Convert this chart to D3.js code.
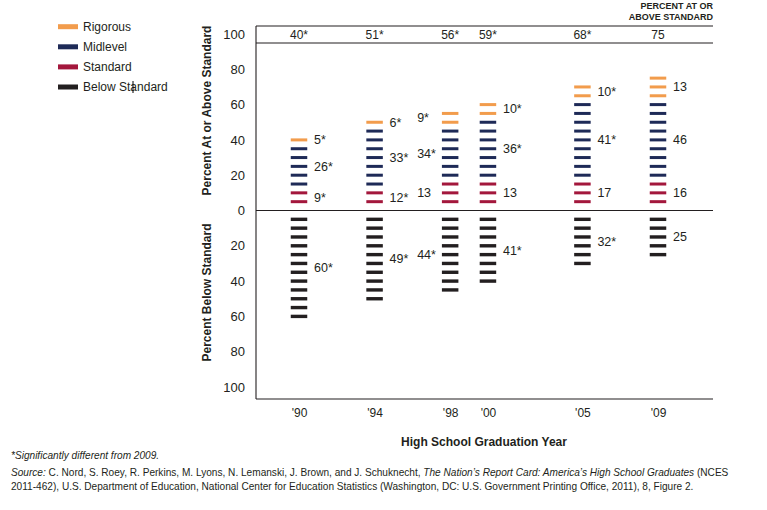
<!DOCTYPE html>
<html><head><meta charset="utf-8">
<script src="https://cdn.jsdelivr.net/npm/d3@7"></script>
<style>
html,body{margin:0;padding:0;background:#fff;}
svg{display:block;font-family:"Liberation Sans",Arial,Helvetica,sans-serif;}
</style></head>
<body><svg id="chart" width="767" height="510"></svg>
<script>
// ---- data ----
const years = [1990, 1994, 1998, 2000, 2005, 2009];
const yearLabels = ["'90", "'94", "'98", "'00", "'05", "'09"];
const standard = [9, 12, 13, 13, 17, 16];
const standardSig = [true, true, false, false, false, false];
const midlevel = [26, 33, 34, 36, 41, 46];
const midlevelSig = [true, true, true, true, true, false];
const rigorous = [5, 6, 9, 10, 10, 13];
const rigorousSig = [true, true, true, true, true, false];
const belowStandard = [60, 49, 44, 41, 32, 25];
const belowSig = [true, true, true, true, true, false];
const atOrAbove = [40, 51, 56, 59, 68, 75];
const atOrAboveSig = [true, true, true, true, true, false];
const yTicks = [0, 20, 40, 60, 80, 100];
const legendItems = ["Rigorous", "Midlevel", "Standard", "Below Standard"];
const leftLabelYears = [1998];
const dashStep = 5;

// ---- style ----
const colors = {Rigorous: "#f29c4c", Midlevel: "#1e2a57", Standard: "#a3173c", "Below Standard": "#231f20"};
const textColor = "#231f20";

const svg = d3.select("#chart");
const frame = {left: 256, right: 713, top: 26, header: 43, zero: 210.5, bottom: 399};

const x = d3.scaleLinear().domain([1990, 2009]).range([299, 658]);
const yUp = d3.scaleLinear().domain([0, 100]).range([frame.zero, 34]);
const yDown = d3.scaleLinear().domain([0, 100]).range([frame.zero, 387]);

// frame lines
const ln = (x1, y1, x2, y2) => svg.append("line").attr("x1", x1).attr("y1", y1).attr("x2", x2).attr("y2", y2)
  .attr("stroke", textColor).attr("stroke-width", 1.1);
ln(frame.left, frame.top, frame.right, frame.top);
ln(frame.left, frame.header, frame.right, frame.header);
ln(frame.left, frame.zero, frame.right, frame.zero);
ln(frame.left, frame.bottom, frame.right, frame.bottom);
ln(frame.left, frame.top, frame.left, frame.bottom);

// y tick labels via axes (no lines)
const axUp = svg.append("g").attr("transform", `translate(${frame.left - 11},0)`)
  .call(d3.axisLeft(yUp).tickValues(yTicks).tickSize(0).tickPadding(0));
const axDown = svg.append("g").attr("transform", `translate(${frame.left - 11},0)`)
  .call(d3.axisLeft(yDown).tickValues(yTicks.slice(1)).tickSize(0).tickPadding(0));
[axUp, axDown].forEach(g => {
  g.select(".domain").remove();
  g.selectAll("text").attr("font-size", 13).attr("fill", textColor)
    .attr("font-family", '"Liberation Sans",Arial,sans-serif');
});

// x tick labels
const axX = svg.append("g").attr("transform", `translate(0,${frame.bottom + 9})`)
  .call(d3.axisBottom(x).tickValues(years).tickFormat((d, i) => yearLabels[i]).tickSize(0).tickPadding(0));
axX.select(".domain").remove();
axX.selectAll("text").attr("font-size", 12).attr("fill", textColor)
  .attr("font-family", '"Liberation Sans",Arial,sans-serif');

// header totals
svg.append("g").selectAll("text").data(years).join("text")
  .attr("x", d => x(d)).attr("y", 35).attr("dy", "0.35em").attr("text-anchor", "middle")
  .attr("font-size", 12).attr("fill", textColor)
  .text((d, i) => atOrAbove[i] + (atOrAboveSig[i] ? "*" : ""));

svg.append("text").attr("x", frame.right).attr("y", 5.5).attr("dy", "0.35em").attr("text-anchor", "end")
  .attr("font-size", 9).attr("font-weight", "bold").attr("fill", textColor).text("PERCENT AT OR");
svg.append("text").attr("x", frame.right).attr("y", 16.5).attr("dy", "0.35em").attr("text-anchor", "end")
  .attr("font-size", 9).attr("font-weight", "bold").attr("fill", textColor).text("ABOVE STANDARD");

// dashes
const dashW = 16.5, dashH = 3;
const dashes = [];
const labels = [];
years.forEach((yr, i) => {
  const c1 = Math.round(standard[i] / dashStep);
  const c2 = Math.round((standard[i] + midlevel[i]) / dashStep);
  const c3 = Math.round((standard[i] + midlevel[i] + rigorous[i]) / dashStep);
  const segs = [
    {name: "Standard", from: 1, to: c1, v: standard[i], sig: standardSig[i]},
    {name: "Midlevel", from: c1 + 1, to: c2, v: midlevel[i], sig: midlevelSig[i]},
    {name: "Rigorous", from: c2 + 1, to: c3, v: rigorous[i], sig: rigorousSig[i]}
  ];
  const left = leftLabelYears.includes(yr);
  segs.forEach(s => {
    for (let k = s.from; k <= s.to; k++) dashes.push({yr, y: yUp(k * dashStep), color: colors[s.name], h: dashH});
    labels.push({yr, left, y: yUp((s.from + s.to) / 2 * dashStep), text: s.v + (s.sig ? "*" : "")});
  });
  const cb = Math.round(belowStandard[i] / dashStep);
  for (let k = 1; k <= cb; k++) dashes.push({yr, y: yDown(k * dashStep), color: colors["Below Standard"], h: 3.4});
  labels.push({yr, left, y: yDown((1 + cb) / 2 * dashStep), text: belowStandard[i] + (belowSig[i] ? "*" : "")});
});

svg.append("g").selectAll("rect").data(dashes).join("rect")
  .attr("x", d => x(d.yr) - dashW / 2).attr("y", d => d.y - d.h / 2)
  .attr("width", dashW).attr("height", d => d.h).attr("fill", d => d.color);

svg.append("g").selectAll("text").data(labels).join("text")
  .attr("x", d => d.left ? x(d.yr) - 33 : x(d.yr) + 15)
  .attr("y", d => d.y).attr("dy", "0.35em")
  .attr("font-size", 12.5).attr("fill", textColor).text(d => d.text);

// axis titles
svg.append("text").attr("transform", "translate(211,110.5) rotate(-90)").attr("text-anchor", "middle")
  .attr("font-size", 12).attr("font-weight", "bold").attr("fill", textColor).text("Percent At or Above Standard");
svg.append("text").attr("transform", "translate(211,292.5) rotate(-90)").attr("text-anchor", "middle")
  .attr("font-size", 12).attr("font-weight", "bold").attr("fill", textColor).text("Percent Below Standard");
svg.append("text").attr("x", 484).attr("y", 441.5).attr("dy", "0.35em").attr("text-anchor", "middle")
  .attr("font-size", 12).attr("font-weight", "bold").attr("fill", textColor).text("High School Graduation Year");

// legend
const lg = svg.append("g").selectAll("g").data(legendItems).join("g")
  .attr("transform", (d, i) => `translate(58,${26.7 + i * 20.1})`);
lg.append("rect").attr("x", 0).attr("y", -2.5).attr("width", 20).attr("height", 5).attr("fill", d => colors[d]);
lg.append("text").attr("x", 25).attr("y", 0).attr("dy", "0.35em").attr("font-size", 12).attr("fill", textColor).text(d => d);
// text cursor artifact visible in the source image
svg.append("line").attr("x1", 133).attr("x2", 133).attr("y1", 81).attr("y2", 93).attr("stroke", "#000").attr("stroke-width", 1);

// footnotes
const fs = 10.1;
svg.append("text").attr("x", 11).attr("y", 455).attr("dy", "0.35em").attr("font-size", fs)
  .attr("font-style", "italic").attr("fill", textColor).text("*Significantly different from 2009.");
const s1 = svg.append("text").attr("x", 11).attr("y", 472.7).attr("dy", "0.35em").attr("font-size", fs).attr("fill", textColor);
s1.append("tspan").attr("font-style", "italic").text("Source:");
s1.append("tspan").text(" C. Nord, S. Roey, R. Perkins, M. Lyons, N. Lemanski, J. Brown, and J. Schuknecht, ");
s1.append("tspan").attr("font-style", "italic").text("The Nation\u2019s Report Card: America\u2019s High School Graduates");
s1.append("tspan").text(" (NCES");
svg.append("text").attr("x", 11).attr("y", 486.7).attr("dy", "0.35em").attr("font-size", fs).attr("fill", textColor)
  .text("2011-462), U.S. Department of Education, National Center for Education Statistics (Washington, DC: U.S. Government Printing Office, 2011), 8, Figure 2.");
</script></body></html>
